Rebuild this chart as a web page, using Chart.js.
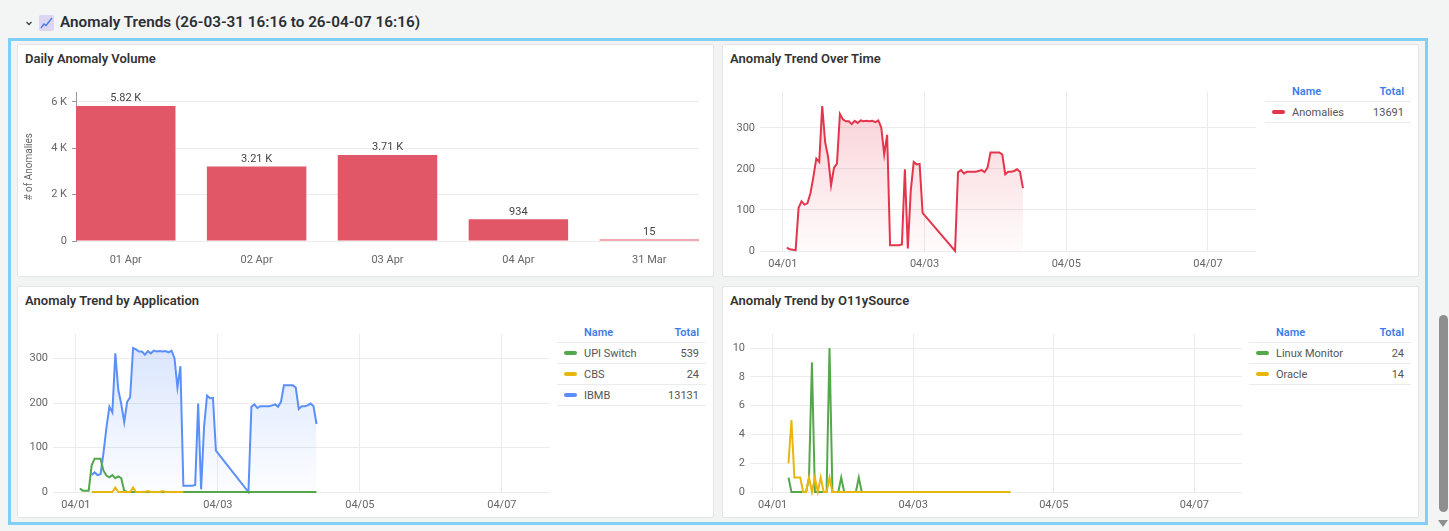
<!DOCTYPE html>
<html>
<head>
<meta charset="utf-8">
<title>Anomaly Trends</title>
<script src="https://cdn.jsdelivr.net/npm/chart.js@4.4.1/dist/chart.umd.min.js"></script>
<style>
  html, body { margin: 0; padding: 0; }
  body {
    width: 1449px; height: 531px; position: relative; overflow: hidden;
    background: #f3f4f4; font-family: Roboto, "Noto Sans", sans-serif;
  }
  .abs { position: absolute; }
  .head-title { left: 60px; top: 12px; font-size: 15.3px; line-height: 20px; font-weight: 600; color: #2b2f33; white-space: nowrap; }
  .frame { left: 8px; top: 38px; width: 1414px; height: 481px; border: 3px solid #7fcff8; background: #f2f3f3; }
  .card { background: #fff; border: 1px solid #e3e5e8; border-radius: 2px; box-sizing: border-box; }
  .card-title { position: absolute; left: 7px; top: 6px; font-size: 13px; line-height: 16px; font-weight: 600; color: #333; white-space: nowrap; }
  .chart-box { position: absolute; }
  table.legend { position: absolute; border-collapse: collapse; font-size: 11px; color: #555; }
  table.legend td, table.legend th { height: 20px; padding: 0; border-bottom: 1px solid #e9ebee; white-space: nowrap; }
  table.legend th { color: #3f7be8; font-weight: 600; text-align: left; }
  table.legend th.tot, table.legend td.tot { text-align: right; padding-right: 7px; }
  table.legend .nm { padding-left: 27px; position: relative; }
  table.legend .sw { position: absolute; left: 7px; top: 8px; width: 13px; height: 4px; border-radius: 2px; }
  .thumb { left: 1439px; top: 315px; width: 9px; height: 197px; border-radius: 5px; background: #8f8f8f; }
</style>
</head>
<body>

<svg class="abs" style="left:24px;top:18px" width="10" height="10" viewBox="0 0 10 10">
  <polyline points="2.5,4 5,6.5 7.5,4" fill="none" stroke="#444" stroke-width="1.4"/>
</svg>
<svg class="abs" style="left:39px;top:15px" width="15" height="16" viewBox="0 0 15 16">
  <rect x="0" y="0" width="15" height="16" rx="2" fill="#dcd6f2"/>
  <polyline points="2,13 5,9 7,10.5 13,3" fill="none" stroke="#4a78e0" stroke-width="1.3"/>
</svg>
<div class="abs head-title">Anomaly Trends (26-03-31 16:16 to 26-04-07 16:16)</div>

<div class="abs frame"></div>

<div class="abs card" style="left:17px;top:44px;width:697px;height:233px"><div class="card-title">Daily Anomaly Volume</div></div>
<div class="abs card" style="left:722px;top:44px;width:697px;height:233px"><div class="card-title">Anomaly Trend Over Time</div></div>
<div class="abs card" style="left:17px;top:286px;width:697px;height:232px"><div class="card-title">Anomaly Trend by Application</div></div>
<div class="abs card" style="left:722px;top:286px;width:697px;height:232px"><div class="card-title">Anomaly Trend by O11ySource</div></div>

<div class="chart-box" style="left:20px;top:81px;width:679px;height:190px"><canvas id="dailyChart"></canvas></div>
<div class="chart-box" style="left:720px;top:80px;width:536px;height:195px"><canvas id="trendChart"></canvas></div>
<div class="chart-box" style="left:13px;top:322px;width:537px;height:194px"><canvas id="appChart"></canvas></div>
<div class="chart-box" style="left:710px;top:322px;width:532px;height:194px"><canvas id="sourceChart"></canvas></div>

<table class="legend" id="trendLegend" style="left:1265px;top:81px;width:146px"></table>
<table class="legend" id="appLegend" style="left:557px;top:322px;width:149px"></table>
<table class="legend" id="sourceLegend" style="left:1249px;top:322px;width:162px"></table>

<div class="abs thumb"></div>
<svg class="abs" style="left:1437px;top:519px" width="12" height="9" viewBox="0 0 12 9">
  <polygon points="1,1 11,1 6,8" fill="#8f8f8f"/>
</svg>

<script>
// daily volume (bar chart)
const dayLabels = ["01 Apr", "02 Apr", "03 Apr", "04 Apr", "31 Mar"];
const dayCounts = [5822, 3210, 3710, 934, 15];
const volumeTicks = [0, 2000, 4000, 6000];

// time axis
const rangeStart = "03-31 16:16";
const rangeEnd = "04-07 16:16";
const timeTicks = ["04-01 00:00", "04-03 00:00", "04-05 00:00", "04-07 00:00"];
const timeTickLabels = ["04/01", "04/03", "04/05", "04/07"];

// hourly buckets (no data between 04-02 23:20 and 04-03 10:20)
const hourlyTimes = [
  "04-01 01:20", "04-01 02:20", "04-01 03:20", "04-01 04:20", "04-01 05:20", "04-01 06:20",
  "04-01 07:20", "04-01 08:20", "04-01 09:20", "04-01 10:20", "04-01 11:20", "04-01 12:20",
  "04-01 13:20", "04-01 14:20", "04-01 15:20", "04-01 16:20", "04-01 17:20", "04-01 18:20",
  "04-01 19:20", "04-01 20:20", "04-01 21:20", "04-01 22:20", "04-01 23:20",
  "04-02 00:20", "04-02 01:20", "04-02 02:20", "04-02 03:20", "04-02 04:20", "04-02 05:20",
  "04-02 06:20", "04-02 07:20", "04-02 08:20", "04-02 09:20", "04-02 10:20", "04-02 11:20",
  "04-02 12:20", "04-02 13:20", "04-02 14:20", "04-02 15:20", "04-02 16:20", "04-02 17:20",
  "04-02 18:20", "04-02 19:20", "04-02 20:20", "04-02 21:20", "04-02 22:20", "04-02 23:20",
  "04-03 10:20", "04-03 11:20", "04-03 12:20", "04-03 13:20", "04-03 14:20", "04-03 15:20",
  "04-03 16:20", "04-03 17:20", "04-03 18:20", "04-03 19:20", "04-03 20:20", "04-03 21:20",
  "04-03 22:20", "04-03 23:20",
  "04-04 00:20", "04-04 01:20", "04-04 02:20", "04-04 03:20", "04-04 04:20", "04-04 05:20",
  "04-04 06:20", "04-04 07:20", "04-04 08:20", "04-04 09:20"
];
const anomalyCounts = [
  8, 4, 3, 2, 105, 121, 113, 116, 140, 180, 225, 217,
  353, 265, 229, 160, 203, 213, 334, 321, 316, 316, 309,
  317, 312, 318, 316, 317, 316, 317, 314, 318, 301, 235, 283,
  14, 14, 14, 14, 16, 199, 6, 147, 217, 211, 212, 93,
  0, 192, 197, 189, 193, 193, 193, 193, 195, 197, 192, 203, 240, 240,
  240, 240, 235, 187, 193, 193, 195, 199, 193, 153
];
const ibmbCounts = [
  null, null, null, null, 38, 44, 38, 40, 88, 145, 192, 179,
  312, 230, 198, 157, 203, 213, 324, 321, 316, 316, 309,
  317, 312, 318, 316, 317, 316, 317, 314, 318, 301, 235, 283,
  14, 14, 14, 14, 16, 199, 6, 147, 217, 211, 212, 93,
  0, 192, 197, 189, 193, 193, 193, 193, 195, 197, 192, 203, 240, 240,
  240, 240, 235, 187, 193, 193, 195, 199, 193, 153
];
const upiTimes = [
  "04-01 01:20", "04-01 02:20", "04-01 03:20", "04-01 04:20", "04-01 05:20", "04-01 06:20",
  "04-01 07:20", "04-01 08:20", "04-01 09:20", "04-01 10:20", "04-01 11:20", "04-01 12:20",
  "04-01 13:20", "04-01 14:20", "04-01 15:20", "04-01 16:20", "04-01 17:20", "04-04 09:20"
];
const upiCounts = [8, 3, 3, 3, 60, 75, 75, 75, 48, 37, 33, 38, 31, 35, 31, 3, 0, 0];
const cbsTimes = [
  "04-01 05:20", "04-01 12:20", "04-01 13:20", "04-01 14:20", "04-01 18:20", "04-01 19:20",
  "04-01 20:20", "04-01 23:20", "04-02 00:20", "04-02 01:20", "04-02 04:20", "04-02 05:20",
  "04-02 06:20", "04-02 12:20"
];
const cbsCounts = [0, 0, 10, 0, 0, 10, 0, 0, 2, 0, 0, 2, 0, 0];

const linuxTimes = [
  "04-01 05:25", "04-01 06:25", "04-01 11:25", "04-01 12:25", "04-01 13:25", "04-01 14:25",
  "04-01 18:25", "04-01 19:25", "04-01 20:25", "04-01 22:25", "04-01 23:25", "04-02 00:25",
  "04-02 04:25", "04-02 05:25", "04-02 06:25", "04-04 09:10"
];
const linuxCounts = [1, 0, 0, 1, 9, 0, 0, 10, 0, 0, 1, 0, 0, 1, 0, 0];
const oracleTimes = [
  "04-01 05:25", "04-01 06:25", "04-01 07:25", "04-01 08:25", "04-01 09:25", "04-01 10:25",
  "04-01 11:25", "04-01 12:25", "04-01 13:25", "04-01 14:25", "04-01 15:25", "04-01 16:25",
  "04-01 17:25", "04-01 18:25", "04-01 19:25", "04-01 20:25", "04-04 09:10"
];
const oracleCounts = [2, 5, 1, 1, 1, 0, 0, 1, 0, 1, 0, 1, 0, 0, 1, 0, 0];

// legend tables
const trendNames = ["Anomalies"];
const trendTotals = [13691];
const trendColors = ["#e4354c"];
const appNames = ["UPI Switch", "CBS", "IBMB"];
const appTotals = [539, 24, 13131];
const appColors = ["#54a84b", "#e8b70d", "#5b8ff9"];
const sourceNames = ["Linux Monitor", "Oracle"];
const sourceTotals = [24, 14];
const sourceColors = ["#54a84b", "#e8b70d"];

const GRID = "#ececec";
const TICK = "#666";

// "MM-DD HH:mm" -> hours after 04-01 00:00
function toHours(s) {
  const [md, hm] = s.split(" ");
  const [mon, day] = md.split("-").map(Number);
  const [h, m] = hm.split(":").map(Number);
  const d = mon === 3 ? day - 31 : day;
  return (d - 1) * 24 + h + m / 60;
}

function toPoints(times, values) {
  return times.map((t, i) => ({ x: toHours(t), y: values[i] }));
}

function fade(r, g, b) {
  return function (context) {
    const { ctx, chartArea } = context.chart;
    if (!chartArea) return null;
    const grad = ctx.createLinearGradient(0, chartArea.top, 0, chartArea.bottom);
    grad.addColorStop(0, `rgba(${r},${g},${b},0.24)`);
    grad.addColorStop(1, `rgba(${r},${g},${b},0.02)`);
    return grad;
  };
}

function buildLegend(id, names, totals, colors) {
  let html = '<tr><th class="nm">Name</th><th class="tot">Total</th></tr>';
  names.forEach((n, i) => {
    html += `<tr><td class="nm"><span class="sw" style="background:${colors[i]}"></span>${n}</td>` +
      `<td class="tot">${totals[i]}</td></tr>`;
  });
  document.getElementById(id).innerHTML = html;
}

function lineOptions(yMax, step) {
  return {
    responsive: true,
    maintainAspectRatio: false,
    animation: false,
    layout: { padding: { top: 8 } },
    plugins: { legend: { display: false }, tooltip: { enabled: false } },
    elements: { point: { radius: 0 }, line: { borderWidth: 2, tension: 0 } },
    datasets: { line: { clip: 4 } },
    scales: {
      x: {
        type: "linear",
        min: toHours(rangeStart),
        max: toHours(rangeEnd),
        afterBuildTicks: (s) => { s.ticks = timeTicks.map((t) => ({ value: toHours(t) })); },
        afterFit: (s) => { s.height = 24; },
        ticks: {
          padding: 7, color: TICK, font: { size: 11 }, autoSkip: false, maxRotation: 0,
          callback: (v, i) => timeTickLabels[i]
        },
        grid: { color: GRID, drawTicks: false },
        border: { display: false }
      },
      y: {
        min: 0,
        max: yMax,
        afterBuildTicks: (s) => {
          s.ticks = s.ticks.filter((t) => Math.abs(t.value / step - Math.round(t.value / step)) < 1e-6);
        },
        afterFit: (s) => { s.width = 40; },
        ticks: { stepSize: step, padding: 5, color: TICK, font: { size: 11 } },
        grid: { color: GRID, drawTicks: false },
        border: { display: false }
      }
    }
  };
}

function formatK(v) {
  return v >= 1000 ? (v / 1000).toFixed(2) + " K" : String(v);
}

// labels on top of bars
const barValueLabels = {
  id: "barValueLabels",
  afterDatasetsDraw(chart) {
    const { ctx } = chart;
    const meta = chart.getDatasetMeta(0);
    ctx.save();
    ctx.font = "11px Roboto, 'Noto Sans', sans-serif";
    ctx.fillStyle = "#444";
    ctx.textAlign = "center";
    ctx.textBaseline = "bottom";
    meta.data.forEach((bar, i) => {
      ctx.fillText(formatK(dayCounts[i]), bar.x, bar.y - 2);
    });
    ctx.restore();
  }
};

document.addEventListener("DOMContentLoaded", function () {
  Chart.defaults.font.family = "Roboto, 'Noto Sans', sans-serif";

  buildLegend("trendLegend", trendNames, trendTotals, trendColors);
  buildLegend("appLegend", appNames, appTotals, appColors);
  buildLegend("sourceLegend", sourceNames, sourceTotals, sourceColors);

  // Daily Anomaly Volume
  new Chart(document.getElementById("dailyChart"), {
    type: "bar",
    data: {
      datasets: [{
        data: dayCounts.map((v, i) => ({ x: i, y: v })),
        backgroundColor: "#e25767",
        borderWidth: 0,
        minBarLength: 1.5,
        categoryPercentage: 1,
        barPercentage: 0.76
      }]
    },
    options: {
      responsive: true,
      maintainAspectRatio: false,
      animation: false,
      layout: { padding: { top: 8 } },
      plugins: { legend: { display: false }, tooltip: { enabled: false } },
      scales: {
        x: {
          type: "linear",
          offset: false,
          min: -0.38,
          max: dayLabels.length - 0.62,
          afterBuildTicks: (s) => { s.ticks = dayLabels.map((l, i) => ({ value: i })); },
          afterFit: (s) => { s.height = 30; },
          ticks: { padding: 5, color: TICK, font: { size: 11 }, autoSkip: false, maxRotation: 0,
            callback: (v, i) => dayLabels[i] },
          grid: { display: false, offset: false },
          border: { display: false }
        },
        y: {
          min: 0,
          max: Math.max(...dayCounts) * 1.1,
          afterBuildTicks: (s) => { s.ticks = volumeTicks.map((v) => ({ value: v })); },
          afterFit: (s) => { s.width = 56; },
          title: { display: true, text: "# of Anomalies", color: TICK, font: { size: 10 }, padding: { top: 3, bottom: 0 } },
          ticks: { padding: 5, color: TICK, font: { size: 11 }, autoSkip: false,
            callback: (v) => (v === 0 ? "0" : v / 1000 + " K") },
          grid: { color: GRID, tickColor: "#999", tickLength: 4 },
          border: { display: true, color: "#999" }
        }
      }
    },
    plugins: [barValueLabels]
  });

  // Anomaly Trend Over Time
  new Chart(document.getElementById("trendChart"), {
    type: "line",
    data: {
      datasets: [{
        data: toPoints(hourlyTimes, anomalyCounts),
        borderColor: trendColors[0],
        backgroundColor: fade(228, 53, 76),
        fill: "origin",
        spanGaps: true
      }]
    },
    options: lineOptions(Math.max(...anomalyCounts) * 1.1, 100)
  });

  // Anomaly Trend by Application
  new Chart(document.getElementById("appChart"), {
    type: "line",
    data: {
      datasets: [
        { data: toPoints(upiTimes, upiCounts), borderColor: appColors[0], fill: false, order: 1 },
        { data: toPoints(cbsTimes, cbsCounts), borderColor: appColors[1], fill: false, order: 0 },
        { data: toPoints(hourlyTimes, ibmbCounts), borderColor: appColors[2],
          backgroundColor: fade(91, 143, 249), fill: "origin", spanGaps: true, order: 2 }
      ]
    },
    options: lineOptions(Math.max(...ibmbCounts.filter((v) => v !== null)) * 1.1, 100)
  });

  // Anomaly Trend by O11ySource
  new Chart(document.getElementById("sourceChart"), {
    type: "line",
    data: {
      datasets: [
        { data: toPoints(linuxTimes, linuxCounts), borderColor: sourceColors[0], fill: false, order: 1 },
        { data: toPoints(oracleTimes, oracleCounts), borderColor: sourceColors[1], fill: false, order: 0 }
      ]
    },
    options: lineOptions(Math.max(...linuxCounts) * 1.1, 2)
  });
});
</script>
</body>
</html>
